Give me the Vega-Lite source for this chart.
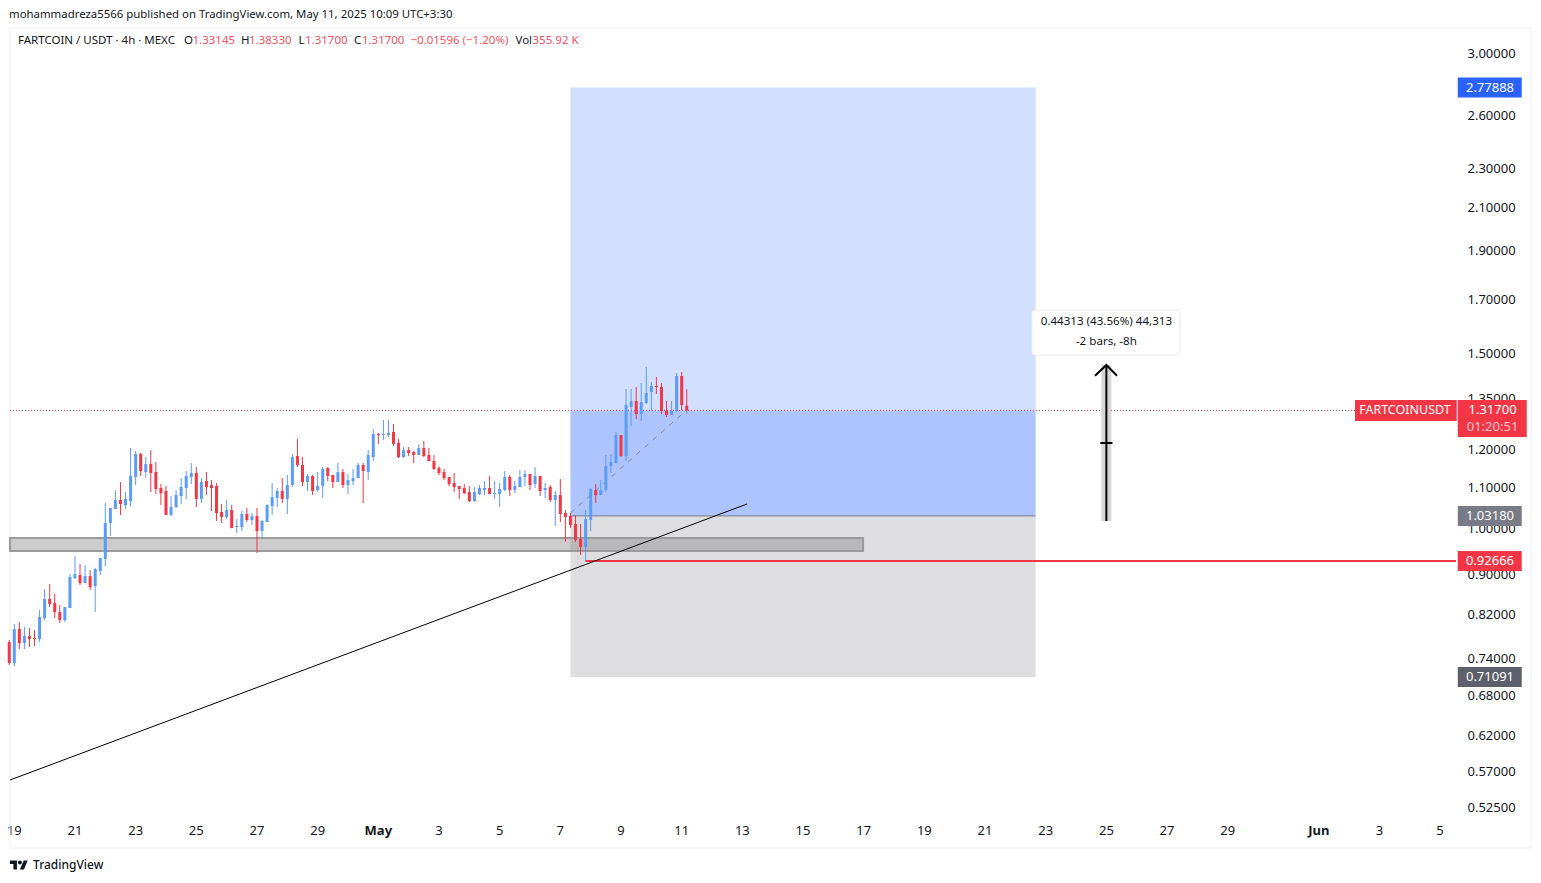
{
  "$schema": "https://vega.github.io/schema/vega-lite/v6.json",
  "width": 1446,
  "height": 792,
  "autosize": "none",
  "padding": {"left": 10, "top": 28, "right": 85, "bottom": 63},
  "background": "#ffffff",
  "title": {"text": "mohammadreza5566 published on TradingView.com, May 11, 2025 10:09 UTC+3:30", "anchor": "start", "frame": "group", "offset": 7, "dx": -1, "fontSize": 11.4, "fontWeight": "normal", "color": "#131722", "font": "Noto Sans"},
  "config": {"view": {"stroke": null}, "font": "Noto Sans"},
  "datasets": {
    "candles": [
      {"t":"2025-04-18T20:00:00Z","o":0.7707,"h":0.7743,"l":0.7308,"c":0.7342},
      {"t":"2025-04-19T00:00:00Z","o":0.7342,"h":0.8035,"l":0.7291,"c":0.7942},
      {"t":"2025-04-19T04:00:00Z","o":0.7942,"h":0.8072,"l":0.7584,"c":0.7690},
      {"t":"2025-04-19T08:00:00Z","o":0.7690,"h":0.7979,"l":0.7584,"c":0.7815},
      {"t":"2025-04-19T12:00:00Z","o":0.7815,"h":0.7961,"l":0.7619,"c":0.7761},
      {"t":"2025-04-19T16:00:00Z","o":0.7779,"h":0.7924,"l":0.7636,"c":0.7761},
      {"t":"2025-04-19T20:00:00Z","o":0.7761,"h":0.8299,"l":0.7707,"c":0.8166},
      {"t":"2025-04-20T00:00:00Z","o":0.8148,"h":0.8712,"l":0.8110,"c":0.8514},
      {"t":"2025-04-20T04:00:00Z","o":0.8514,"h":0.8814,"l":0.8357,"c":0.8416},
      {"t":"2025-04-20T08:00:00Z","o":0.8435,"h":0.8612,"l":0.8148,"c":0.8261},
      {"t":"2025-04-20T12:00:00Z","o":0.8261,"h":0.8396,"l":0.8054,"c":0.8110},
      {"t":"2025-04-20T16:00:00Z","o":0.8110,"h":0.8357,"l":0.8072,"c":0.8357},
      {"t":"2025-04-20T20:00:00Z","o":0.8338,"h":0.9020,"l":0.8338,"c":0.8958},
      {"t":"2025-04-21T00:00:00Z","o":0.8937,"h":0.9403,"l":0.8917,"c":0.9020},
      {"t":"2025-04-21T04:00:00Z","o":0.8999,"h":0.9231,"l":0.8793,"c":0.8834},
      {"t":"2025-04-21T08:00:00Z","o":0.8834,"h":0.9210,"l":0.8834,"c":0.8978},
      {"t":"2025-04-21T12:00:00Z","o":0.8978,"h":0.9104,"l":0.8692,"c":0.8753},
      {"t":"2025-04-21T16:00:00Z","o":0.8773,"h":0.9146,"l":0.8261,"c":0.9125},
      {"t":"2025-04-21T20:00:00Z","o":0.9083,"h":0.9360,"l":0.8999,"c":0.9360},
      {"t":"2025-04-22T00:00:00Z","o":0.9339,"h":1.0630,"l":0.9189,"c":1.0149},
      {"t":"2025-04-22T04:00:00Z","o":1.0149,"h":1.0508,"l":0.9848,"c":1.0508},
      {"t":"2025-04-22T08:00:00Z","o":1.0483,"h":1.0954,"l":1.0483,"c":1.0704},
      {"t":"2025-04-22T12:00:00Z","o":1.0704,"h":1.1158,"l":1.0339,"c":1.0606},
      {"t":"2025-04-22T16:00:00Z","o":1.0581,"h":1.0904,"l":1.0483,"c":1.0729},
      {"t":"2025-04-22T20:00:00Z","o":1.0679,"h":1.2072,"l":1.0557,"c":1.1315},
      {"t":"2025-04-23T00:00:00Z","o":1.1289,"h":1.1988,"l":1.1081,"c":1.1906},
      {"t":"2025-04-23T04:00:00Z","o":1.1906,"h":1.1933,"l":1.1315,"c":1.1447},
      {"t":"2025-04-23T08:00:00Z","o":1.1420,"h":1.1823,"l":1.1262,"c":1.1633},
      {"t":"2025-04-23T12:00:00Z","o":1.1633,"h":1.2016,"l":1.0904,"c":1.1394},
      {"t":"2025-04-23T16:00:00Z","o":1.1420,"h":1.1687,"l":1.0853,"c":1.0979},
      {"t":"2025-04-23T20:00:00Z","o":1.1005,"h":1.1107,"l":1.0581,"c":1.0878},
      {"t":"2025-04-24T00:00:00Z","o":1.0929,"h":1.1056,"l":1.0339,"c":1.0339},
      {"t":"2025-04-24T04:00:00Z","o":1.0339,"h":1.0803,"l":1.0315,"c":1.0532},
      {"t":"2025-04-24T08:00:00Z","o":1.0532,"h":1.0954,"l":1.0508,"c":1.0828},
      {"t":"2025-04-24T12:00:00Z","o":1.0803,"h":1.1262,"l":1.0606,"c":1.1030},
      {"t":"2025-04-24T16:00:00Z","o":1.1005,"h":1.1447,"l":1.0729,"c":1.1315},
      {"t":"2025-04-24T20:00:00Z","o":1.1289,"h":1.1660,"l":1.1107,"c":1.1394},
      {"t":"2025-04-25T00:00:00Z","o":1.1394,"h":1.1553,"l":1.0532,"c":1.0729},
      {"t":"2025-04-25T04:00:00Z","o":1.0729,"h":1.1262,"l":1.0630,"c":1.1158},
      {"t":"2025-04-25T08:00:00Z","o":1.1184,"h":1.1420,"l":1.0828,"c":1.1030},
      {"t":"2025-04-25T12:00:00Z","o":1.1081,"h":1.1210,"l":1.0435,"c":1.1005},
      {"t":"2025-04-25T16:00:00Z","o":1.1056,"h":1.1133,"l":1.0196,"c":1.0387},
      {"t":"2025-04-25T20:00:00Z","o":1.0411,"h":1.0606,"l":1.0149,"c":1.0291},
      {"t":"2025-04-26T00:00:00Z","o":1.0291,"h":1.0704,"l":1.0244,"c":1.0459},
      {"t":"2025-04-26T04:00:00Z","o":1.0459,"h":1.0581,"l":1.0032,"c":1.0032},
      {"t":"2025-04-26T08:00:00Z","o":1.0056,"h":1.0244,"l":0.9917,"c":1.0079},
      {"t":"2025-04-26T12:00:00Z","o":1.0056,"h":1.0435,"l":0.9963,"c":1.0363},
      {"t":"2025-04-26T16:00:00Z","o":1.0363,"h":1.0508,"l":1.0173,"c":1.0220},
      {"t":"2025-04-26T20:00:00Z","o":1.0220,"h":1.0387,"l":1.0102,"c":1.0315},
      {"t":"2025-04-27T00:00:00Z","o":1.0315,"h":1.0508,"l":0.9469,"c":0.9963},
      {"t":"2025-04-27T04:00:00Z","o":0.9963,"h":1.0220,"l":0.9803,"c":1.0196},
      {"t":"2025-04-27T08:00:00Z","o":1.0173,"h":1.0606,"l":1.0173,"c":1.0581},
      {"t":"2025-04-27T12:00:00Z","o":1.0557,"h":1.1133,"l":1.0339,"c":1.0778},
      {"t":"2025-04-27T16:00:00Z","o":1.0754,"h":1.1005,"l":1.0532,"c":1.0929},
      {"t":"2025-04-27T20:00:00Z","o":1.0929,"h":1.1262,"l":1.0630,"c":1.0729},
      {"t":"2025-04-28T00:00:00Z","o":1.0729,"h":1.1341,"l":1.0363,"c":1.1081},
      {"t":"2025-04-28T04:00:00Z","o":1.1081,"h":1.1906,"l":1.1030,"c":1.1823},
      {"t":"2025-04-28T08:00:00Z","o":1.1851,"h":1.2327,"l":1.1553,"c":1.1606},
      {"t":"2025-04-28T12:00:00Z","o":1.1606,"h":1.1823,"l":1.1056,"c":1.1158},
      {"t":"2025-04-28T16:00:00Z","o":1.1158,"h":1.1367,"l":1.0929,"c":1.1315},
      {"t":"2025-04-28T20:00:00Z","o":1.1315,"h":1.1341,"l":1.0828,"c":1.0929},
      {"t":"2025-04-29T00:00:00Z","o":1.0954,"h":1.1420,"l":1.0904,"c":1.1056},
      {"t":"2025-04-29T04:00:00Z","o":1.1056,"h":1.1553,"l":1.0754,"c":1.1500},
      {"t":"2025-04-29T08:00:00Z","o":1.1526,"h":1.1553,"l":1.1184,"c":1.1315},
      {"t":"2025-04-29T12:00:00Z","o":1.1341,"h":1.1341,"l":1.1005,"c":1.1158},
      {"t":"2025-04-29T16:00:00Z","o":1.1158,"h":1.1660,"l":1.1158,"c":1.1420},
      {"t":"2025-04-29T20:00:00Z","o":1.1420,"h":1.1500,"l":1.1005,"c":1.1081},
      {"t":"2025-04-30T00:00:00Z","o":1.1081,"h":1.1367,"l":1.0853,"c":1.1210},
      {"t":"2025-04-30T04:00:00Z","o":1.1184,"h":1.1500,"l":1.1081,"c":1.1262},
      {"t":"2025-04-30T08:00:00Z","o":1.1262,"h":1.1660,"l":1.1262,"c":1.1606},
      {"t":"2025-04-30T12:00:00Z","o":1.1606,"h":1.1660,"l":1.0630,"c":1.1447},
      {"t":"2025-04-30T16:00:00Z","o":1.1420,"h":1.2016,"l":1.1210,"c":1.1878},
      {"t":"2025-04-30T20:00:00Z","o":1.1823,"h":1.2615,"l":1.1714,"c":1.2470},
      {"t":"2025-05-01T00:00:00Z","o":1.2470,"h":1.2499,"l":1.2185,"c":1.2441},
      {"t":"2025-05-01T04:00:00Z","o":1.2441,"h":1.2880,"l":1.2298,"c":1.2470},
      {"t":"2025-05-01T08:00:00Z","o":1.2441,"h":1.2880,"l":1.2384,"c":1.2499},
      {"t":"2025-05-01T12:00:00Z","o":1.2528,"h":1.2762,"l":1.2128,"c":1.2185},
      {"t":"2025-05-01T16:00:00Z","o":1.2213,"h":1.2327,"l":1.1796,"c":1.1823},
      {"t":"2025-05-01T20:00:00Z","o":1.1823,"h":1.2100,"l":1.1796,"c":1.2016},
      {"t":"2025-05-02T00:00:00Z","o":1.2016,"h":1.2100,"l":1.1851,"c":1.1933},
      {"t":"2025-05-02T04:00:00Z","o":1.1961,"h":1.1988,"l":1.1660,"c":1.1878},
      {"t":"2025-05-02T08:00:00Z","o":1.1878,"h":1.2185,"l":1.1878,"c":1.2072},
      {"t":"2025-05-02T12:00:00Z","o":1.2072,"h":1.2270,"l":1.1823,"c":1.1851},
      {"t":"2025-05-02T16:00:00Z","o":1.1878,"h":1.2072,"l":1.1714,"c":1.1714},
      {"t":"2025-05-02T20:00:00Z","o":1.1714,"h":1.1878,"l":1.1473,"c":1.1500},
      {"t":"2025-05-03T00:00:00Z","o":1.1526,"h":1.1579,"l":1.1341,"c":1.1394},
      {"t":"2025-05-03T04:00:00Z","o":1.1420,"h":1.1500,"l":1.1210,"c":1.1262},
      {"t":"2025-05-03T08:00:00Z","o":1.1289,"h":1.1289,"l":1.1056,"c":1.1107},
      {"t":"2025-05-03T12:00:00Z","o":1.1133,"h":1.1394,"l":1.0904,"c":1.1030},
      {"t":"2025-05-03T16:00:00Z","o":1.1056,"h":1.1056,"l":1.0729,"c":1.0979},
      {"t":"2025-05-03T20:00:00Z","o":1.1005,"h":1.1107,"l":1.0853,"c":1.0878},
      {"t":"2025-05-04T00:00:00Z","o":1.0904,"h":1.1056,"l":1.0655,"c":1.0679},
      {"t":"2025-05-04T04:00:00Z","o":1.0679,"h":1.1030,"l":1.0655,"c":1.0904},
      {"t":"2025-05-04T08:00:00Z","o":1.0853,"h":1.1081,"l":1.0828,"c":1.1005},
      {"t":"2025-05-04T12:00:00Z","o":1.0954,"h":1.1184,"l":1.0828,"c":1.1005},
      {"t":"2025-05-04T16:00:00Z","o":1.1005,"h":1.1315,"l":1.0853,"c":1.0853},
      {"t":"2025-05-04T20:00:00Z","o":1.0853,"h":1.1184,"l":1.0729,"c":1.0878},
      {"t":"2025-05-05T00:00:00Z","o":1.0853,"h":1.1133,"l":1.0532,"c":1.0979},
      {"t":"2025-05-05T04:00:00Z","o":1.0954,"h":1.1447,"l":1.0929,"c":1.1289},
      {"t":"2025-05-05T08:00:00Z","o":1.1289,"h":1.1341,"l":1.0803,"c":1.0954},
      {"t":"2025-05-05T12:00:00Z","o":1.0954,"h":1.1184,"l":1.0878,"c":1.1056},
      {"t":"2025-05-05T16:00:00Z","o":1.1030,"h":1.1473,"l":1.1030,"c":1.1289},
      {"t":"2025-05-05T20:00:00Z","o":1.1289,"h":1.1473,"l":1.1056,"c":1.1367},
      {"t":"2025-05-06T00:00:00Z","o":1.1367,"h":1.1367,"l":1.0954,"c":1.1081},
      {"t":"2025-05-06T04:00:00Z","o":1.1107,"h":1.1553,"l":1.1005,"c":1.1315},
      {"t":"2025-05-06T08:00:00Z","o":1.1315,"h":1.1315,"l":1.0803,"c":1.0929},
      {"t":"2025-05-06T12:00:00Z","o":1.0954,"h":1.1133,"l":1.0754,"c":1.1005},
      {"t":"2025-05-06T16:00:00Z","o":1.1030,"h":1.1081,"l":1.0655,"c":1.0704},
      {"t":"2025-05-06T20:00:00Z","o":1.0704,"h":1.0929,"l":1.0079,"c":1.0828},
      {"t":"2025-05-07T00:00:00Z","o":1.0828,"h":1.1236,"l":1.0173,"c":1.0363},
      {"t":"2025-05-07T04:00:00Z","o":1.0387,"h":1.0459,"l":0.9713,"c":1.0291},
      {"t":"2025-05-07T08:00:00Z","o":1.0315,"h":1.0387,"l":1.0032,"c":1.0102},
      {"t":"2025-05-07T12:00:00Z","o":1.0126,"h":1.0339,"l":0.9713,"c":0.9758},
      {"t":"2025-05-07T16:00:00Z","o":0.9781,"h":1.0126,"l":0.9425,"c":0.9602},
      {"t":"2025-05-07T20:00:00Z","o":0.9602,"h":1.0459,"l":0.9296,"c":1.0244},
      {"t":"2025-05-08T00:00:00Z","o":1.0220,"h":1.1005,"l":0.9963,"c":1.0979},
      {"t":"2025-05-08T04:00:00Z","o":1.0954,"h":1.1107,"l":1.0630,"c":1.0828},
      {"t":"2025-05-08T08:00:00Z","o":1.0828,"h":1.1210,"l":1.0828,"c":1.0954},
      {"t":"2025-05-08T12:00:00Z","o":1.0954,"h":1.1878,"l":1.0904,"c":1.1579},
      {"t":"2025-05-08T16:00:00Z","o":1.1579,"h":1.1906,"l":1.1394,"c":1.1687},
      {"t":"2025-05-08T20:00:00Z","o":1.1660,"h":1.2528,"l":1.1660,"c":1.2441},
      {"t":"2025-05-09T00:00:00Z","o":1.2441,"h":1.2441,"l":1.1823,"c":1.1851},
      {"t":"2025-05-09T04:00:00Z","o":1.1851,"h":1.3838,"l":1.1714,"c":1.3334},
      {"t":"2025-05-09T08:00:00Z","o":1.3273,"h":1.3838,"l":1.2703,"c":1.3458},
      {"t":"2025-05-09T12:00:00Z","o":1.3458,"h":1.3902,"l":1.2910,"c":1.3060},
      {"t":"2025-05-09T16:00:00Z","o":1.3060,"h":1.4031,"l":1.2850,"c":1.3427},
      {"t":"2025-05-09T20:00:00Z","o":1.3396,"h":1.4558,"l":1.3365,"c":1.3711},
      {"t":"2025-05-10T00:00:00Z","o":1.3742,"h":1.4063,"l":1.3151,"c":1.3934},
      {"t":"2025-05-10T04:00:00Z","o":1.3934,"h":1.4227,"l":1.3679,"c":1.3902},
      {"t":"2025-05-10T08:00:00Z","o":1.3902,"h":1.4031,"l":1.3060,"c":1.3151},
      {"t":"2025-05-10T12:00:00Z","o":1.3151,"h":1.3458,"l":1.2970,"c":1.3030},
      {"t":"2025-05-10T16:00:00Z","o":1.3030,"h":1.3458,"l":1.3030,"c":1.3151},
      {"t":"2025-05-10T20:00:00Z","o":1.3151,"h":1.4358,"l":1.3121,"c":1.4259},
      {"t":"2025-05-11T00:00:00Z","o":1.4259,"h":1.4392,"l":1.3181,"c":1.3334},
      {"t":"2025-05-11T04:00:00Z","o":1.33145,"h":1.3833,"l":1.317,"c":1.317}
    ],
    "tags": [
      {"label":"2.77888","price":2.77888,"kind":"target"},
      {"label":"1.03180","price":1.0318,"kind":"entry"},
      {"label":"0.92666","price":0.9296,"kind":"last"},
      {"label":"0.71091","price":0.71091,"kind":"stop"}
    ],
    "legendRow": [
      {"t":"2025-04-19T02:56:00Z","label":"FARTCOIN / USDT · 4h · MEXC","kind":"ink"},
      {"t":"2025-04-24T14:18:00Z","label":"O","kind":"ink"},
      {"t":"2025-04-24T21:00:00Z","label":"1.33145","kind":"move"},
      {"t":"2025-04-26T11:24:00Z","label":"H","kind":"ink"},
      {"t":"2025-04-26T17:42:00Z","label":"1.38330","kind":"move"},
      {"t":"2025-04-28T08:48:00Z","label":"L","kind":"ink"},
      {"t":"2025-04-28T14:00:00Z","label":"1.31700","kind":"move"},
      {"t":"2025-04-30T04:42:00Z","label":"C","kind":"ink"},
      {"t":"2025-04-30T11:00:00Z","label":"1.31700","kind":"move"},
      {"t":"2025-05-02T01:24:00Z","label":"−0.01596 (−1.20%)","kind":"move"},
      {"t":"2025-05-05T12:30:00Z","label":"Vol","kind":"ink"},
      {"t":"2025-05-06T02:00:00Z","label":"355.92 K","kind":"move"}
    ]
  },
  "resolve": {"scale": {"color": "independent"}},
  "layer": [
    {
      "data": {"values": [{"from":"2025-04-18T20:36:00Z","to":"2025-06-08T00:00:00Z","hi":3.1888,"lo":0.47869}]},
      "mark": {"type": "rect", "fill": null, "stroke": "#eef0f5", "strokeWidth": 1},
      "encoding": {
        "x": {
          "field": "from", "type": "temporal", "title": null,
          "scale": {"type": "utc", "domain": ["2025-04-18T20:36:00Z", "2025-06-05T12:36:00Z"], "nice": false},
          "axis": {
            "values": ["2025-04-19T00:00:00Z","2025-04-21T00:00:00Z","2025-04-23T00:00:00Z","2025-04-25T00:00:00Z","2025-04-27T00:00:00Z","2025-04-29T00:00:00Z","2025-05-01T00:00:00Z","2025-05-03T00:00:00Z","2025-05-05T00:00:00Z","2025-05-07T00:00:00Z","2025-05-09T00:00:00Z","2025-05-11T00:00:00Z","2025-05-13T00:00:00Z","2025-05-15T00:00:00Z","2025-05-17T00:00:00Z","2025-05-19T00:00:00Z","2025-05-21T00:00:00Z","2025-05-23T00:00:00Z","2025-05-25T00:00:00Z","2025-05-27T00:00:00Z","2025-05-29T00:00:00Z","2025-06-01T00:00:00Z","2025-06-03T00:00:00Z","2025-06-05T00:00:00Z"],
            "labelExpr": "utcdate(datum.value) == 1 ? utcFormat(datum.value, '%b') : utcFormat(datum.value, '%-d')",
            "labelFontWeight": {"condition": {"test": "utcdate(datum.value) == 1", "value": "bold"}, "value": "normal"},
            "domain": false, "ticks": false, "grid": false, "labelFontSize": 13, "labelColor": "#131722", "labelPadding": 4, "labelOffset": -0.5, "labelOverlap": false, "labelBound": false, "labelFlush": false, "labelAngle": 0
          }
        },
        "x2": {"field": "to"},
        "y": {
          "field": "hi", "type": "quantitative", "title": null,
          "scale": {"type": "log", "domain": [0.51074, 3.1888], "nice": false},
          "axis": {
            "orient": "right",
            "values": [3, 2.6, 2.3, 2.1, 1.9, 1.7, 1.5, 1.35, 1.2, 1.1, 1, 0.9, 0.82, 0.74, 0.68, 0.62, 0.57, 0.525],
            "format": ".5f", "domain": false, "ticks": false, "grid": false, "labelFontSize": 13, "labelColor": "#131722", "labelPadding": 11, "labelOffset": -1, "labelOverlap": false, "labelBound": false, "labelFlush": false
          }
        },
        "y2": {"field": "lo"}
      }
    },
    {
      "data": {"values": [
        {"from":"2025-05-07T08:00:00Z","to":"2025-05-22T16:00:00Z","hi":2.77888,"lo":1.317,"zone":"target"},
        {"from":"2025-05-07T08:00:00Z","to":"2025-05-22T16:00:00Z","hi":1.317,"lo":1.0318,"zone":"open"},
        {"from":"2025-05-07T08:00:00Z","to":"2025-05-22T16:00:00Z","hi":1.0318,"lo":0.71091,"zone":"stop"}
      ]},
      "mark": {"type": "rect"},
      "encoding": {
        "x": {"field": "from", "type": "temporal"},
        "x2": {"field": "to"},
        "y": {"field": "hi", "type": "quantitative"},
        "y2": {"field": "lo"},
        "color": {"field": "zone", "type": "nominal", "legend": null, "scale": {"domain": ["target", "open", "stop"], "range": ["#d2dffe", "#adc4fe", "#dedee1"]}}
      }
    },
    {
      "data": {"values": [{"from":"2025-05-07T08:00:00Z","to":"2025-05-22T16:00:00Z","p":1.0318}]},
      "mark": {"type": "rule", "color": "#787b86", "strokeWidth": 1},
      "encoding": {
        "x": {"field": "from", "type": "temporal"},
        "x2": {"field": "to"},
        "y": {"field": "p", "type": "quantitative"}
      }
    },
    {
      "data": {"values": [{"from":"2025-04-18T20:36:00Z","to":"2025-05-16T23:30:00Z","hi":0.9803,"lo":0.9513}]},
      "mark": {"type": "rect", "fill": "#808080", "fillOpacity": 0.4, "stroke": "#9b9b9b", "strokeWidth": 2},
      "encoding": {
        "x": {"field": "from", "type": "temporal"},
        "x2": {"field": "to"},
        "y": {"field": "hi", "type": "quantitative"},
        "y2": {"field": "lo"}
      }
    },
    {
      "data": {"values": [{"from":"2025-04-18T20:36:00Z","to":"2025-06-05T12:36:00Z","p":1.317}]},
      "mark": {"type": "rule", "color": "#f23645", "strokeWidth": 1, "strokeDash": [1, 2]},
      "encoding": {
        "x": {"field": "from", "type": "temporal"},
        "x2": {"field": "to"},
        "y": {"field": "p", "type": "quantitative"}
      }
    },
    {
      "data": {"values": [
        {"t":"2025-05-07T08:00:00Z","p":1.0387},
        {"t":"2025-05-11T04:00:00Z","p":1.3181},
        {"t":"2025-05-11T04:00:00Z","p":1.297}
      ]},
      "mark": {"type": "line", "color": "#868993", "strokeWidth": 1, "strokeDash": [5, 6]},
      "encoding": {
        "x": {"field": "t", "type": "temporal"},
        "y": {"field": "p", "type": "quantitative"},
        "order": {"value": null}
      }
    },
    {
      "data": {"name": "candles"},
      "mark": {"type": "rule", "strokeWidth": 1},
      "encoding": {
        "x": {"field": "t", "type": "temporal"},
        "y": {"field": "h", "type": "quantitative"},
        "y2": {"field": "l"},
        "color": {"condition": {"test": "datum.c >= datum.o", "value": "#5b9cf6"}, "value": "#f23645"}
      }
    },
    {
      "data": {"name": "candles"},
      "mark": {"type": "rule", "strokeWidth": 3},
      "encoding": {
        "x": {"field": "t", "type": "temporal"},
        "y": {"field": "o", "type": "quantitative"},
        "y2": {"field": "c"},
        "color": {"condition": {"test": "datum.c >= datum.o", "value": "#5b9cf6"}, "value": "#f23645"}
      }
    },
    {
      "data": {"values": [{"from":"2025-05-07T20:00:00Z","to":"2025-06-05T12:36:00Z","p":0.9296}]},
      "mark": {"type": "rule", "color": "#f23645", "strokeWidth": 2},
      "encoding": {
        "x": {"field": "from", "type": "temporal"},
        "x2": {"field": "to"},
        "y": {"field": "p", "type": "quantitative"}
      }
    },
    {
      "data": {"values": [
        {"t":"2025-04-18T20:36:00Z","p":0.5602},
        {"t":"2025-05-13T03:40:00Z","p":1.0606}
      ]},
      "mark": {"type": "line", "color": "#000000", "strokeWidth": 1},
      "encoding": {
        "x": {"field": "t", "type": "temporal"},
        "y": {"field": "p", "type": "quantitative"}
      }
    },
    {
      "data": {"values": [{"t":"2025-05-25T00:00:00Z","hi":1.4628,"lo":1.0196}]},
      "mark": {"type": "rule", "color": "#d6d6d6", "strokeWidth": 10},
      "encoding": {
        "x": {"field": "t", "type": "temporal"},
        "y": {"field": "hi", "type": "quantitative"},
        "y2": {"field": "lo"}
      }
    },
    {
      "data": {"values": [
        {"t":"2025-05-25T00:00:00Z","p":1.0196,"part":"shaft"},
        {"t":"2025-05-25T00:00:00Z","p":1.4628,"part":"shaft"},
        {"t":"2025-05-24T15:00:00Z","p":1.4269,"part":"head"},
        {"t":"2025-05-25T00:00:00Z","p":1.4628,"part":"head"},
        {"t":"2025-05-25T08:24:00Z","p":1.4269,"part":"head"},
        {"t":"2025-05-24T19:12:00Z","p":1.2213,"part":"tick"},
        {"t":"2025-05-25T04:48:00Z","p":1.2213,"part":"tick"}
      ]},
      "mark": {"type": "line", "color": "#000000", "strokeWidth": 2},
      "encoding": {
        "x": {"field": "t", "type": "temporal"},
        "y": {"field": "p", "type": "quantitative"},
        "detail": {"field": "part"},
        "order": {"value": null}
      }
    },
    {
      "data": {"values": [{"from":"2025-05-22T13:06:00Z","to":"2025-05-27T10:12:00Z","hi":1.6612,"lo":1.4968}]},
      "mark": {"type": "rect", "fill": "#ffffff", "stroke": "#ebebed", "strokeWidth": 1, "cornerRadius": 3},
      "encoding": {
        "x": {"field": "from", "type": "temporal"},
        "x2": {"field": "to"},
        "y": {"field": "hi", "type": "quantitative"},
        "y2": {"field": "lo"}
      }
    },
    {
      "data": {"values": [
        {"t":"2025-05-25T00:00:00Z","p":1.6157,"label":"0.44313 (43.56%) 44,313"},
        {"t":"2025-05-25T00:00:00Z","p":1.5427,"label":"-2 bars, -8h"}
      ]},
      "mark": {"type": "text", "fontSize": 11.6, "color": "#131722", "align": "center", "baseline": "middle"},
      "encoding": {
        "x": {"field": "t", "type": "temporal"},
        "y": {"field": "p", "type": "quantitative"},
        "text": {"field": "label"}
      }
    },
    {
      "data": {"values": [{"p":1.317}]},
      "mark": {"type": "rule", "color": "#f23645", "strokeWidth": 21},
      "encoding": {
        "x": {"datum": {"year": 2025, "month": 6, "date": 2, "hours": 4, "minutes": 42, "utc": true}, "type": "temporal"},
        "x2": {"datum": {"year": 2025, "month": 6, "date": 5, "hours": 13, "minutes": 12, "utc": true}},
        "y": {"field": "p", "type": "quantitative"}
      }
    },
    {
      "data": {"values": [{"p":1.2925}]},
      "mark": {"type": "rule", "color": "#f23645", "strokeWidth": 37},
      "encoding": {
        "x": {"datum": {"year": 2025, "month": 6, "date": 5, "hours": 14, "utc": true}, "type": "temporal"},
        "x2": {"datum": {"year": 2025, "month": 6, "date": 7, "hours": 20, "minutes": 36, "utc": true}},
        "y": {"field": "p", "type": "quantitative"}
      }
    },
    {
      "data": {"name": "tags"},
      "mark": {"type": "rule", "strokeWidth": 20},
      "encoding": {
        "x": {"datum": {"year": 2025, "month": 6, "date": 5, "hours": 14, "utc": true}, "type": "temporal"},
        "x2": {"datum": {"year": 2025, "month": 6, "date": 7, "hours": 16, "minutes": 36, "utc": true}},
        "y": {"field": "price", "type": "quantitative"},
        "color": {"field": "kind", "type": "nominal", "legend": null, "scale": {"domain": ["target", "entry", "last", "stop"], "range": ["#2962ff", "#787b86", "#f23645", "#5d606b"]}}
      }
    },
    {
      "data": {"name": "tags"},
      "mark": {"type": "text", "fontSize": 13, "color": "#ffffff", "align": "center", "baseline": "middle"},
      "encoding": {
        "x": {"datum": {"year": 2025, "month": 6, "date": 6, "hours": 15, "minutes": 30, "utc": true}, "type": "temporal"},
        "y": {"field": "price", "type": "quantitative"},
        "text": {"field": "label"}
      }
    },
    {
      "data": {"values": [{"p":1.317,"label":"1.31700","kind":"price"},{"p":1.2672,"label":"01:20:51","kind":"timer"}]},
      "mark": {"type": "text", "fontSize": 13, "align": "center", "baseline": "middle"},
      "encoding": {
        "x": {"datum": {"year": 2025, "month": 6, "date": 6, "hours": 17, "minutes": 30, "utc": true}, "type": "temporal"},
        "y": {"field": "p", "type": "quantitative"},
        "text": {"field": "label"},
        "color": {"field": "kind", "type": "nominal", "legend": null, "scale": {"domain": ["price", "timer"], "range": ["#ffffff", "#fbc4c9"]}}
      }
    },
    {
      "data": {"values": [{"p":1.317,"label":"FARTCOINUSDT"}]},
      "mark": {"type": "text", "fontSize": 12.5, "color": "#ffffff", "align": "center", "baseline": "middle"},
      "encoding": {
        "x": {"datum": {"year": 2025, "month": 6, "date": 3, "hours": 20, "minutes": 12, "utc": true}, "type": "temporal"},
        "y": {"field": "p", "type": "quantitative"},
        "text": {"field": "label"}
      }
    },
    {
      "data": {"name": "legendRow"},
      "mark": {"type": "text", "fontSize": 11.5, "align": "left", "baseline": "middle"},
      "encoding": {
        "x": {"field": "t", "type": "temporal"},
        "y": {"datum": 3.0943, "type": "quantitative"},
        "text": {"field": "label"},
        "color": {"field": "kind", "type": "nominal", "legend": null, "scale": {"domain": ["ink", "move"], "range": ["#131722", "#f7525f"]}}
      }
    },
    {
      "data": {"values": [{"t":"2025-04-19T03:40:00Z","p":0.4603}]},
      "mark": {"type": "point", "filled": true, "size": 324, "opacity": 1, "color": "#131722", "shape": "M-.222 .5H-.611V-.111H-1V-.5H-.222ZM.556 .5H.111L.528 -.5H.972ZM-.111 -.278a.222 .222 0 1 0 .444 0a.222 .222 0 1 0 -.444 0Z"},
      "encoding": {
        "x": {"field": "t", "type": "temporal"},
        "y": {"field": "p", "type": "quantitative"}
      }
    },
    {
      "data": {"values": [{"t":"2025-04-19T14:48:00Z","p":0.4603,"label":"TradingView"}]},
      "mark": {"type": "text", "fontSize": 12, "fontWeight": 500, "color": "#131722", "align": "left", "baseline": "middle"},
      "encoding": {
        "x": {"field": "t", "type": "temporal"},
        "y": {"field": "p", "type": "quantitative"},
        "text": {"field": "label"}
      }
    }
  ]
}
